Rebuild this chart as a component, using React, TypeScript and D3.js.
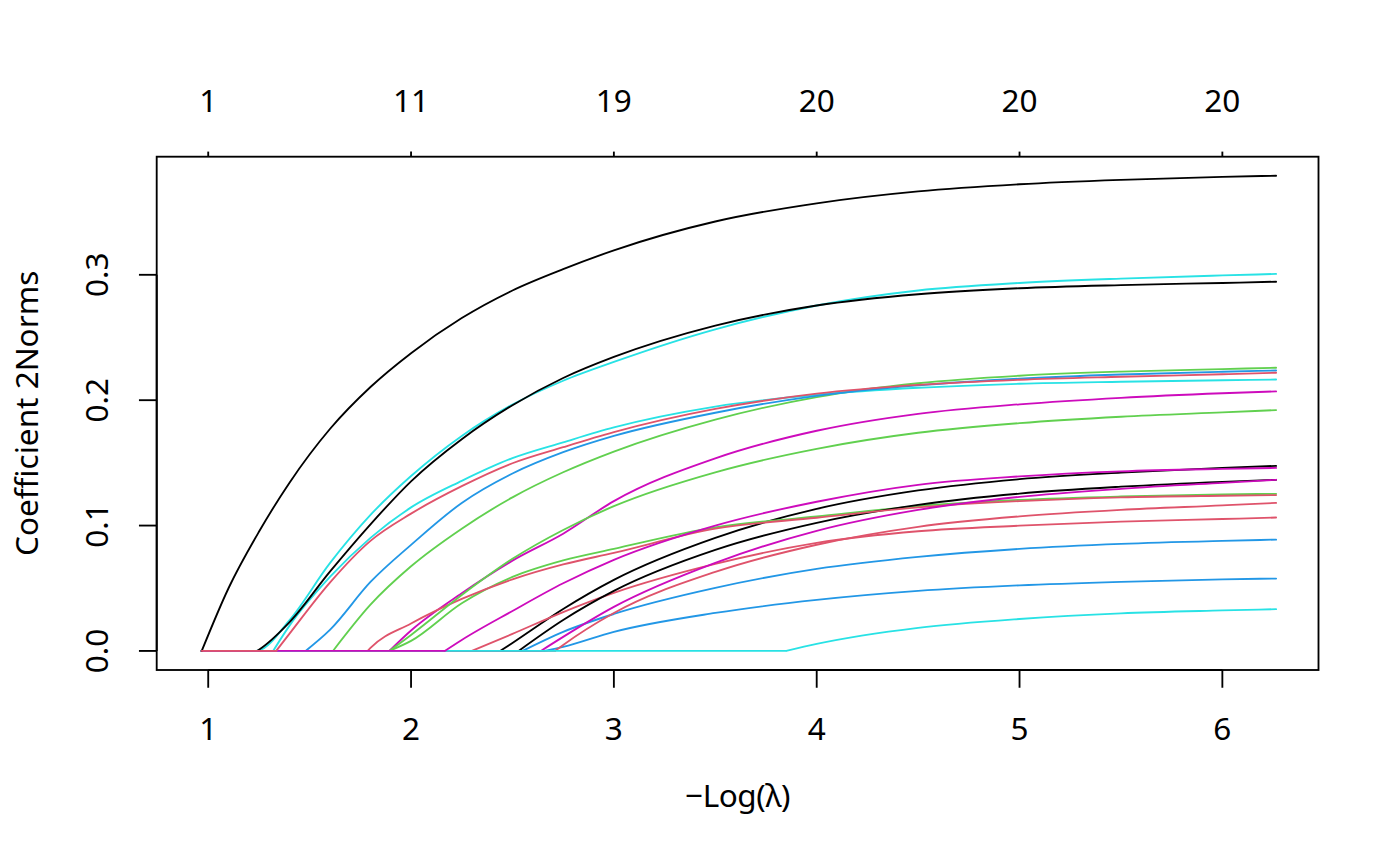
import React from 'react';
import * as d3 from 'd3';

// -log(lambda) grid at which the coefficient-group norms are read
const logLambda = [0.968, 1.1, 1.25, 1.4, 1.6, 1.8, 2.0, 2.25, 2.5, 2.75, 3.0, 3.5, 4.0, 4.5, 5.0, 5.5, 6.0, 6.265];

// -log(lambda) at which each group leaves zero
const entryAt = [2.44, 2.30, 1.893, 2.55, 1.235, 1.893, 2.53, 1.786, 1.615, 2.66, 1.32, 2.64, 1.24, 2.71, 1.893, 1.48, 3.85, 2.166, 0.968, 1.335];

const g01 = [0, 0, 0, 0, 0, 0, 0, 0, 0.0064, 0.0335, 0.0567, 0.0902, 0.1133, 0.128, 0.137, 0.1422, 0.146, 0.1476];
const g02 = [0, 0, 0, 0, 0, 0, 0, 0, 0.0136, 0.031, 0.0463, 0.0694, 0.0862, 0.0955, 0.0999, 0.1031, 0.1052, 0.1064];
const g03 = [0, 0, 0, 0, 0, 0, 0.008, 0.038, 0.059, 0.0722, 0.0814, 0.0985, 0.1072, 0.1155, 0.1205, 0.1232, 0.1248, 0.1253];
const g04 = [0, 0, 0, 0, 0, 0, 0, 0, 0, 0.0152, 0.0295, 0.0503, 0.0654, 0.075, 0.0814, 0.0854, 0.0878, 0.0888];
const g05 = [0, 0, 0.0004, 0.0244, 0.07, 0.1085, 0.1395, 0.1715, 0.1965, 0.2155, 0.2305, 0.2565, 0.2755, 0.2875, 0.2935, 0.297, 0.2995, 0.3007];
const g06 = [0, 0, 0, 0, 0, 0, 0.0163, 0.046, 0.072, 0.0935, 0.1195, 0.1536, 0.1756, 0.1891, 0.1967, 0.2019, 0.2055, 0.207];
const g07 = [0, 0, 0, 0, 0, 0, 0, 0, 0, 0.0247, 0.0479, 0.0806, 0.1022, 0.1165, 0.1255, 0.131, 0.1349, 0.1365];
const g08 = [0, 0, 0, 0, 0, 0.0024, 0.0219, 0.0415, 0.0571, 0.069, 0.0782, 0.0975, 0.1062, 0.1145, 0.1195, 0.1225, 0.1238, 0.1243];
const g09 = [0, 0, 0, 0, 0, 0.0369, 0.0675, 0.0975, 0.1225, 0.1425, 0.159, 0.1845, 0.2025, 0.2135, 0.2195, 0.2228, 0.2248, 0.2259];
const g10 = [0, 0, 0, 0, 0, 0, 0, 0, 0, 0.0032, 0.0152, 0.0303, 0.0407, 0.0479, 0.0523, 0.0551, 0.0571, 0.0577];
const g11 = [0, 0, 0, 0.02, 0.059, 0.0902, 0.1145, 0.1357, 0.1538, 0.1664, 0.1783, 0.1949, 0.2043, 0.2099, 0.2131, 0.2147, 0.2159, 0.2165];
const g12 = [0, 0, 0, 0, 0, 0, 0, 0, 0, 0.0112, 0.0351, 0.0702, 0.0958, 0.1125, 0.1229, 0.1293, 0.1341, 0.1365];
const g13 = [0, 0, 0.001, 0.0228, 0.0632, 0.101, 0.1353, 0.1689, 0.196, 0.2177, 0.2345, 0.2595, 0.2755, 0.2845, 0.2893, 0.2918, 0.2935, 0.2945];
const g14 = [0, 0, 0, 0, 0, 0, 0, 0, 0, 0.0048, 0.0303, 0.063, 0.0847, 0.099, 0.1073, 0.1125, 0.1161, 0.1181];
const g15 = [0, 0, 0, 0, 0, 0, 0.0128, 0.0447, 0.0735, 0.0965, 0.1155, 0.1425, 0.1612, 0.174, 0.1817, 0.1868, 0.1903, 0.1921];
const g16 = [0, 0, 0, 0, 0.0168, 0.055, 0.0846, 0.118, 0.1415, 0.1585, 0.1715, 0.19, 0.2035, 0.2118, 0.2172, 0.2205, 0.2227, 0.2237];
const g17 = [0, 0, 0, 0, 0, 0, 0, 0, 0, 0, 0, 0, 0.0056, 0.0184, 0.0255, 0.03, 0.0323, 0.0333];
const g18 = [0, 0, 0, 0, 0, 0, 0, 0.0088, 0.0319, 0.054, 0.0727, 0.1, 0.119, 0.1325, 0.1392, 0.1432, 0.1452, 0.146];
const g19 = [0, 0.05, 0.095, 0.134, 0.177, 0.2105, 0.2375, 0.2655, 0.2875, 0.3045, 0.3195, 0.3425, 0.357, 0.3665, 0.3722, 0.3757, 0.3781, 0.379];
const g20 = [0, 0, 0, 0.0136, 0.0545, 0.0878, 0.1095, 0.1314, 0.1497, 0.1625, 0.1745, 0.193, 0.2052, 0.2122, 0.2163, 0.2187, 0.2207, 0.2219];

const groupNorms = [g01, g02, g03, g04, g05, g06, g07, g08, g09, g10, g11, g12, g13, g14, g15, g16, g17, g18, g19, g20];

const palette = ['#000000', '#DF536B', '#61D04F', '#2297E6', '#28E2E5', '#CD0BBC'];

const xTicks = [1, 2, 3, 4, 5, 6];
const yTicks = [0.0, 0.1, 0.2, 0.3];
const topTickAt = [1, 2, 3, 4, 5, 6];
const topTickLabels = ['1', '11', '19', '20', '20', '20'];

const xLabel = '\u2212Log(\u03BB)';
const yLabel = 'Coefficient 2Norms';

const W = 1400;
const H = 866;
const box = { left: 156.7, right: 1318.5, top: 156.7, bottom: 670 };
const FONT = '"Noto Sans", "Open Sans", sans-serif';
const FS = 31.5;
const LW = 1.85;

export default function App() {
  const x = d3.scaleLinear().domain([0.746, 6.474]).range([box.left, box.right]);
  const y = d3.scaleLinear().domain([-0.0152, 0.3942]).range([box.bottom, box.top]);

  const curve = d3
    .line<[number, number]>()
    .x((d) => x(d[0]))
    .y((d) => y(d[1]))
    .curve(d3.curveMonotoneX);

  const paths = groupNorms.map((vals, i) => {
    const e = entryAt[i];
    const pts: [number, number][] = [[e, 0]];
    logLambda.forEach((lx, j) => {
      if (lx > e + 1e-6) pts.push([lx, vals[j]]);
    });
    let d = '';
    if (e > logLambda[0] + 1e-6) {
      d += `M${x(logLambda[0])},${y(0)}L${x(e)},${y(0)}`;
    }
    d += curve(pts) || '';
    return { d, color: palette[i % palette.length] };
  });

  const tickLen = 17.75;
  const topTickLen = 5.1;

  return (
    <svg
      width={W}
      height={H}
      viewBox={`0 0 ${W} ${H}`}
      style={{ position: 'absolute', left: 0, top: 0, background: '#fff' }}
      fontFamily={FONT}
    >
      <rect x={0} y={0} width={W} height={H} fill="#ffffff" />
      <g fill="none" strokeLinejoin="round" strokeLinecap="round">
        {paths.map((p, i) => (
          <path key={i} d={p.d} stroke={p.color} strokeWidth={LW} />
        ))}
      </g>
      <rect
        x={box.left}
        y={box.top}
        width={box.right - box.left}
        height={box.bottom - box.top}
        fill="none"
        stroke="#000"
        strokeWidth={LW}
      />
      {/* bottom axis */}
      <g stroke="#000" strokeWidth={LW}>
        <line x1={x(xTicks[0])} x2={x(xTicks[xTicks.length - 1])} y1={box.bottom} y2={box.bottom} />
        {xTicks.map((t) => (
          <line key={t} x1={x(t)} x2={x(t)} y1={box.bottom} y2={box.bottom + tickLen} />
        ))}
      </g>
      {xTicks.map((t) => (
        <text key={t} x={x(t)} y={740} textAnchor="middle" fontSize={FS} fill="#000">
          {String(t)}
        </text>
      ))}
      {/* left axis */}
      <g stroke="#000" strokeWidth={LW}>
        <line x1={box.left} x2={box.left} y1={y(yTicks[0])} y2={y(yTicks[yTicks.length - 1])} />
        {yTicks.map((t) => (
          <line key={t} x1={box.left} x2={box.left - tickLen} y1={y(t)} y2={y(t)} />
        ))}
      </g>
      {yTicks.map((t) => (
        <text
          key={t}
          transform={`translate(108,${y(t)}) rotate(-90)`}
          textAnchor="middle"
          fontSize={FS}
          fill="#000"
        >
          {t.toFixed(1)}
        </text>
      ))}
      {/* top axis: number of nonzero groups */}
      <g stroke="#000" strokeWidth={LW}>
        {topTickAt.map((t) => (
          <line key={t} x1={x(t)} x2={x(t)} y1={box.top} y2={box.top - topTickLen} />
        ))}
      </g>
      {topTickAt.map((t, i) => (
        <text key={t} x={x(t)} y={111.5} textAnchor="middle" fontSize={FS} fill="#000">
          {topTickLabels[i]}
        </text>
      ))}
      {/* axis titles */}
      <text
        x={(box.left + box.right) / 2}
        y={807}
        textAnchor="middle"
        fontSize={FS}
        fill="#000"
        letterSpacing={-0.5}
      >
        {xLabel}
      </text>
      <text
        transform={`translate(37.5,${(box.top + box.bottom) / 2}) rotate(-90)`}
        textAnchor="middle"
        fontSize={FS}
        fill="#000"
      >
        {yLabel}
      </text>
    </svg>
  );
}
